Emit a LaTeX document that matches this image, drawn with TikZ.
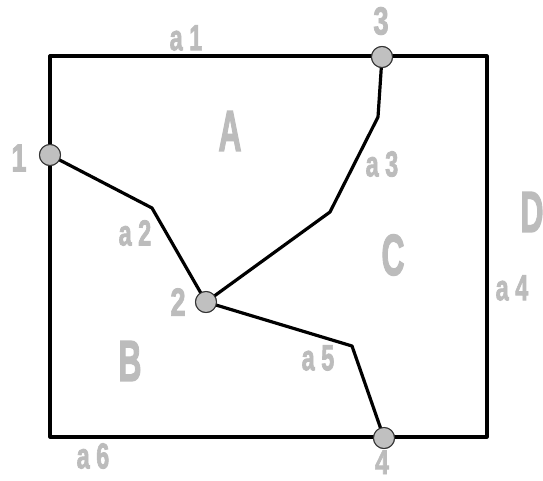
\documentclass[tikz,border=0pt]{standalone}
\usepackage{fontspec}
\setmainfont{Liberation Sans}
\newfontfamily\imp[FakeBold=2.5]{Liberation Sans Bold}
\definecolor{lbl}{RGB}{188,188,188}
\definecolor{pt}{RGB}{192,192,192}
\begin{document}
\begin{tikzpicture}[x=1pt,y=-1pt,
  edge/.style={line width=3.2pt,line join=round},
  vtx/.style={circle,fill=pt,draw=black!80,line width=1pt,minimum size=21pt,inner sep=0pt},
  big/.style={text=lbl,font=\imp\fontsize{58}{58}\selectfont,inner sep=0pt},
  num/.style={text=lbl,font=\imp\fontsize{39}{39}\selectfont,inner sep=0pt},
  arc/.style={text=lbl,font=\imp\fontsize{36}{36}\selectfont,inner sep=0pt}]
\useasboundingbox (0,0) rectangle (543,480);
\fill[white] (0,0) rectangle (543,480);
\draw[edge] (50,56) rectangle (487,437);
\coordinate (b1) at (152,208);
\coordinate (b2) at (378,117);
\coordinate (b3) at (330,212);
\coordinate (b4) at (352,346);
\node[vtx] (n1) at (50,155) {};
\node[vtx] (n2) at (206,302) {};
\node[vtx] (n3) at (382,57) {};
\node[vtx] (n4) at (384,438) {};
\draw[edge] (n1.center) -- (b1) -- (n2.center);
\draw[edge] (n3.center) -- (b2) -- (b3) -- (n2.center);
\draw[edge] (n2.center) -- (b4) -- (n4.center);
\node[vtx] at (n1) {};
\node[vtx] at (n2) {};
\node[vtx] at (n3) {};
\node[vtx] at (n4) {};
\node[big] (A) at (230,131) {\scalebox{0.55}[1]{A}};
\node[big] (B) at (130,361) {\scalebox{0.55}[1]{B}};
\node[big] (C) at (393,255) {\scalebox{0.55}[1]{C}};
\node[big] (D) at (532,212) {\scalebox{0.55}[1]{D}};
\node[num] (l1) at (19,158) {\scalebox{0.7}[1]{1}};
\node[num] (l2) at (178,302) {\scalebox{0.7}[1]{2}};
\node[num] (l3) at (381,21) {\scalebox{0.7}[1]{3}};
\node[num,font=\imp\fontsize{34}{34}\selectfont,anchor=base,text depth=0pt] (l4) at (382,474) {\scalebox{0.74}[1]{4}};
\node[arc] (a1) at (186,38) {\scalebox{0.65}[1]{a 1}};
\node[arc] (a2) at (135,233) {\scalebox{0.65}[1]{a 2}};
\node[arc] (a3) at (382,164) {\scalebox{0.65}[1]{a 3}};
\node[arc] (a4) at (512,288) {\scalebox{0.65}[1]{a 4}};
\node[arc] (a5) at (318,358) {\scalebox{0.65}[1]{a 5}};
\node[arc] (a6) at (93,456) {\scalebox{0.65}[1]{a 6}};
\end{tikzpicture}
\end{document}
